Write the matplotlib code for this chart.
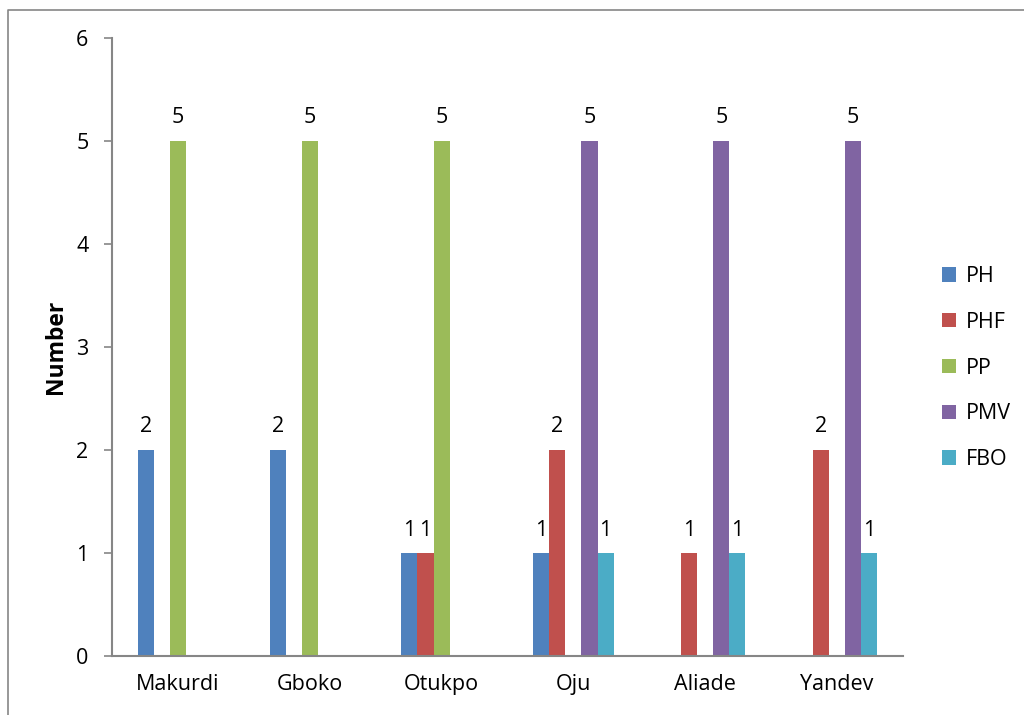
import matplotlib
matplotlib.use("Agg")
import matplotlib.pyplot as plt
from matplotlib.lines import Line2D
import numpy as np

plt.rcParams['font.family'] = ['Open Sans', 'DejaVu Sans']

towns = ["Makurdi", "Gboko", "Otukpo", "Oju", "Aliade", "Yandev"]
series_names = ["PH", "PHF", "PP", "PMV", "FBO"]
ph = [2, 2, 1, 1, 0, 0]
phf = [0, 0, 1, 2, 1, 2]
pp = [5, 5, 5, 0, 0, 0]
pmv = [0, 0, 0, 5, 5, 5]
fbo = [0, 0, 0, 1, 1, 1]
colors = ["#4F81BD", "#C0504D", "#9BBB59", "#8064A2", "#4BACC6"]

fig = plt.figure(figsize=(10.24, 7.15), dpi=100)
ax = fig.add_axes([0.1094, 0.0825, 0.7724, 0.8644])

x = np.arange(len(towns))
width = 0.122
axis_grey = "#868686"
fs = 15.5

for i, (name, vals, col) in enumerate(zip(series_names, [ph, phf, pp, pmv, fbo], colors)):
    pos = x + (i - 2) * width
    ax.bar(pos, vals, width=width, color=col, label=name, edgecolor="none")
    for p, v in zip(pos, vals):
        if v:
            ax.annotate(str(v), (p, v), xytext=(0, 9), textcoords="offset points",
                        ha="center", va="bottom", fontsize=fs, color="black")

ax.set_xlim(-0.5, len(towns) - 0.5)
ax.set_ylim(0, 6)
ax.set_yticks(range(0, 7))
ax.set_xticks(x)
ax.set_xticklabels(towns, fontsize=fs)
ax.tick_params(axis="y", labelsize=fs, length=6, width=1.2, color=axis_grey, pad=11)
ax.tick_params(axis="x", length=0, pad=13)
ax.set_ylabel("Number", fontsize=16.5, fontweight="bold", labelpad=6)

for side in ["top", "right"]:
    ax.spines[side].set_visible(False)
for side in ["left", "bottom"]:
    ax.spines[side].set_color(axis_grey)
    ax.spines[side].set_linewidth(1.5)

leg = ax.legend(loc="center left", bbox_to_anchor=(1.025, 0.466), frameon=False,
                fontsize=fs, handlelength=0.65, handleheight=0.65,
                handletextpad=0.45, labelspacing=1.15)

# outer chart-area frame (left and top edges)
fig.add_artist(Line2D([8 / 1024, 8 / 1024, 1.0], [0.0, 1 - 10 / 715, 1 - 10 / 715],
                      transform=fig.transFigure, color=axis_grey, linewidth=1.2))

fig.savefig("out.png", dpi=100)
